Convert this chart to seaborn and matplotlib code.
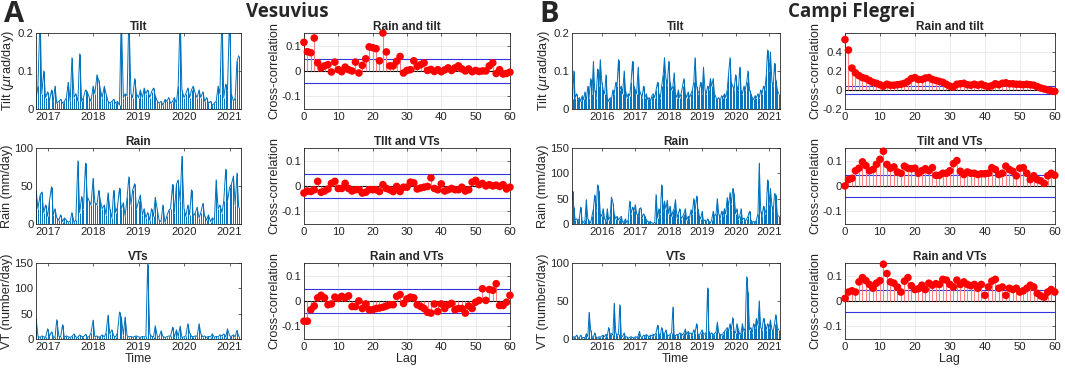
import matplotlib
matplotlib.use("Agg")
import matplotlib.pyplot as plt
import matplotlib.dates as mdates
import seaborn as sns
import numpy as np
import pandas as pd

# ---- time series (semi-monthly samples) ----
ves_dates = pd.date_range("2016-10-01", periods=108, freq="SMS")
cf_dates = pd.date_range("2015-02-01", periods=150, freq="SMS")

ves_tilt = [0.03, 0.06, 0.25, 0.04, 0.10, 0.03, 0.045, 0.02, 0.05, 0.02, 0.06, 0.015,
            0.02, 0.025, 0.015, 0.02, 0.03, 0.07, 0.02, 0.135, 0.03, 0.04, 0.02, 0.145,
            0.02, 0.03, 0.05, 0.045, 0.03, 0.02, 0.06, 0.04, 0.09, 0.075, 0.05, 0.03,
            0.06, 0.04, 0.02, 0.015, 0.02, 0.025, 0.015, 0.02, 0.01, 0.25, 0.03, 0.04,
            0.035, 0.25, 0.04, 0.03, 0.08, 0.04, 0.03, 0.05, 0.03, 0.055, 0.04, 0.05,
            0.03, 0.045, 0.055, 0.035, 0.02, 0.015, 0.02, 0.01, 0.025, 0.02, 0.03, 0.015,
            0.02, 0.03, 0.015, 0.06, 0.25, 0.05, 0.03, 0.04, 0.055, 0.03, 0.05, 0.06,
            0.04, 0.03, 0.05, 0.03, 0.045, 0.02, 0.03, 0.015, 0.02, 0.01, 0.015, 0.02,
            0.06, 0.04, 0.25, 0.03, 0.065, 0.05, 0.25, 0.04, 0.02, 0.03, 0.125, 0.14]
ves_rain = [43, 20, 38, 42, 15, 25, 10, 30, 49, 12, 20, 8, 5, 12, 3, 8, 5, 2, 4, 15,
            2, 5, 83, 15, 36, 20, 80, 36, 30, 25, 60, 28, 25, 44, 30, 20, 25, 12, 41, 20,
            8, 44, 15, 22, 47, 20, 28, 10, 35, 62, 25, 45, 53, 20, 30, 38, 12, 20, 8, 15,
            5, 20, 10, 35, 18, 5, 3, 25, 2, 10, 18, 20, 52, 15, 52, 58, 30, 89, 20, 10,
            25, 12, 45, 10, 15, 22, 8, 15, 27, 10, 5, 12, 3, 8, 5, 58, 20, 25, 15, 30,
            72, 30, 48, 52, 63, 25, 67, 22]
ves_vt = [40, 5, 3, 6, 4, 3, 20, 5, 14, 4, 3, 38, 5, 4, 28, 3, 6, 4, 3, 5,
          10, 4, 3, 8, 5, 4, 9, 3, 5, 12, 37, 4, 6, 3, 5, 8, 4, 12, 47, 10,
          18, 6, 4, 12, 53, 43, 8, 43, 6, 4, 5, 3, 5, 6, 4, 3, 5, 4, 6, 148,
          10, 5, 4, 26, 5, 4, 16, 5, 3, 4, 6, 5, 23, 4, 18, 5, 25, 3, 4, 6,
          30, 12, 5, 4, 6, 5, 30, 10, 4, 6, 3, 5, 4, 10, 3, 5, 4, 8, 6, 10,
          4, 20, 6, 5, 8, 4, 17, 5]

cf_tilt = [0.03, 0.025, 0.1, 0.03, 0.04, 0.025, 0.03, 0.02, 0.035, 0.025, 0.045, 0.02,
           0.06, 0.03, 0.08, 0.04, 0.125, 0.05, 0.03, 0.105, 0.06, 0.13, 0.07, 0.05,
           0.04, 0.09, 0.03, 0.02, 0.03, 0.025, 0.05, 0.04, 0.07, 0.06, 0.13, 0.05,
           0.06, 0.04, 0.1, 0.05, 0.03, 0.04, 0.035, 0.07, 0.125, 0.06, 0.05, 0.04,
           0.11, 0.05, 0.04, 0.03, 0.06, 0.03, 0.04, 0.025, 0.03, 0.02, 0.035, 0.04,
           0.03, 0.05, 0.07, 0.04, 0.03, 0.06, 0.09, 0.135, 0.08, 0.06, 0.125, 0.07,
           0.05, 0.06, 0.095, 0.04, 0.03, 0.05, 0.03, 0.04, 0.06, 0.08, 0.04, 0.03,
           0.045, 0.03, 0.04, 0.05, 0.07, 0.135, 0.06, 0.04, 0.05, 0.07, 0.04, 0.11,
           0.05, 0.04, 0.06, 0.05, 0.08, 0.06, 0.08, 0.04, 0.03, 0.025, 0.03, 0.02,
           0.035, 0.03, 0.04, 0.03, 0.05, 0.09, 0.135, 0.07, 0.06, 0.05, 0.09, 0.06,
           0.05, 0.11, 0.05, 0.04, 0.06, 0.05, 0.07, 0.1, 0.05, 0.04, 0.03, 0.025,
           0.035, 0.03, 0.04, 0.03, 0.05, 0.04, 0.06, 0.05, 0.09, 0.155, 0.1, 0.15,
           0.07, 0.06, 0.12, 0.075, 0.05, 0.04]
cf_rain = [20, 65, 33, 8, 10, 5, 12, 33, 5, 3, 8, 48, 10, 6, 2, 15, 30, 57, 25, 77,
           65, 20, 15, 30, 10, 5, 30, 8, 15, 53, 42, 20, 10, 15, 8, 12, 15, 3, 5, 10,
           2, 8, 45, 20, 33, 25, 38, 20, 15, 30, 32, 12, 20, 15, 8, 5, 3, 5, 2, 1,
           3, 58, 12, 30, 20, 77, 25, 45, 30, 47, 20, 35, 15, 25, 30, 48, 12, 20, 30, 10,
           15, 20, 30, 8, 15, 12, 28, 20, 50, 25, 55, 30, 15, 10, 25, 5, 8, 3, 10, 5,
           2, 8, 25, 15, 20, 50, 20, 10, 25, 15, 30, 20, 52, 35, 62, 40, 70, 60, 20, 30,
           10, 15, 30, 8, 12, 5, 10, 15, 25, 8, 3, 5, 2, 8, 20, 120, 25, 15, 35, 20,
           30, 87, 40, 70, 35, 25, 60, 58, 18, 15]
cf_vt = [2, 1, 3, 2, 5, 1, 2, 5, 1, 2, 1, 7, 3, 35, 12, 3, 2, 8, 2, 1,
         3, 2, 4, 5, 3, 6, 4, 15, 6, 7, 5, 47, 8, 5, 6, 45, 4, 3, 8, 2,
         3, 1, 2, 3, 2, 1, 3, 2, 4, 10, 3, 2, 5, 3, 6, 4, 3, 5, 4, 6,
         5, 8, 18, 6, 5, 15, 8, 6, 12, 5, 4, 6, 8, 42, 5, 4, 6, 5, 8, 7,
         5, 8, 13, 6, 10, 7, 8, 5, 12, 8, 20, 6, 5, 8, 12, 7, 6, 9, 67, 10,
         6, 8, 5, 7, 9, 22, 8, 6, 5, 7, 10, 12, 15, 10, 20, 12, 28, 10, 8, 20,
         12, 6, 8, 20, 10, 15, 82, 62, 12, 15, 8, 20, 15, 27, 18, 50, 15, 12, 27, 20,
         12, 20, 15, 25, 12, 10, 20, 32, 15, 12]

# ---- cross-correlations, lags 0..60 ----
lags = np.arange(61)
ves_rain_tilt = [0.113, 0.076, 0.072, 0.13, 0.032, 0.012, 0.02, 0.025, -0.004, 0.035,
                 0.005, -0.003, 0.015, 0.005, 0.0, 0.035, -0.008, 0.022, 0.048, 0.095,
                 0.092, 0.088, 0.04, 0.15, 0.075, 0.02, 0.02, 0.038, 0.057, -0.008,
                 0.002, 0.005, 0.04, 0.018, 0.025, 0.032, 0.002, 0.006, -0.002, 0.005,
                 -0.003, 0.004, 0.012, 0.002, 0.012, 0.02, 0.008, 0.0, 0.008, -0.003,
                 0.002, -0.002, 0.0, 0.0, 0.02, 0.032, -0.01, 0.005, -0.012, -0.01, -0.005]
ves_tilt_vt = [-0.028, -0.02, -0.022, -0.015, 0.018, -0.025, -0.02, -0.012, 0.01, 0.018,
               -0.01, -0.01, 0.01, -0.01, -0.02, -0.015, -0.015, -0.028, -0.025, -0.015,
               -0.015, -0.015, -0.022, 0.005, -0.01, -0.015, -0.022, -0.002, -0.022, -0.005,
               -0.005, 0.015, 0.012, -0.012, -0.008, -0.005, -0.002, 0.032, -0.01, -0.015,
               0.008, -0.02, -0.015, -0.01, -0.015, -0.015, -0.005, -0.02, -0.015, 0.015,
               0.022, 0.005, 0.01, 0.0, 0.005, 0.0, 0.003, -0.002, 0.005, -0.012, -0.005]
ves_rain_vt = [-0.08, -0.08, -0.035, -0.02, 0.012, 0.022, 0.012, -0.015, -0.012, 0.015,
               0.01, 0.018, 0.012, 0.02, -0.022, -0.022, 0.0, -0.03, -0.012, -0.035,
               -0.035, -0.03, -0.028, -0.025, -0.02, -0.015, -0.015, 0.018, 0.025, -0.01,
               0.008, 0.015, 0.012, -0.015, -0.022, -0.03, -0.045, -0.048, -0.012, -0.042,
               -0.012, -0.03, -0.015, -0.01, -0.035, -0.03, -0.03, -0.048, -0.02, -0.03,
               -0.005, 0.002, 0.048, 0.002, 0.045, 0.042, 0.068, -0.018, -0.018, -0.005, 0.022]
cf_rain_tilt = [0.53, 0.42, 0.23, 0.18, 0.15, 0.13, 0.12, 0.1, 0.08, 0.07,
                0.055, 0.04, 0.06, 0.05, 0.05, 0.055, 0.06, 0.07, 0.09, 0.12,
                0.13, 0.11, 0.11, 0.125, 0.13, 0.11, 0.1, 0.09, 0.08, 0.06,
                0.04, 0.03, 0.06, 0.065, 0.07, 0.055, 0.05, 0.06, 0.05, 0.06,
                0.045, 0.035, 0.045, 0.065, 0.055, 0.07, 0.075, 0.065, 0.065, 0.06,
                0.06, 0.055, 0.06, 0.055, 0.05, 0.035, 0.02, 0.01, 0.0, -0.01, -0.015]
cf_tilt_vt = [0.0, 0.025, 0.03, 0.06, 0.07, 0.095, 0.08, 0.06, 0.065, 0.085,
              0.105, 0.137, 0.085, 0.07, 0.075, 0.055, 0.05, 0.078, 0.07, 0.068,
              0.07, 0.05, 0.06, 0.068, 0.06, 0.072, 0.042, 0.042, 0.05, 0.05,
              0.06, 0.088, 0.1, 0.058, 0.045, 0.055, 0.05, 0.05, 0.045, 0.048,
              0.048, 0.05, 0.072, 0.065, 0.045, 0.05, 0.078, 0.065, 0.058, 0.04,
              0.07, 0.072, 0.05, 0.025, 0.04, 0.025, 0.02, 0.01, 0.04, 0.05, 0.042]
cf_rain_vt = [0.01, 0.035, 0.04, 0.035, 0.075, 0.092, 0.08, 0.065, 0.05, 0.07,
              0.08, 0.145, 0.108, 0.075, 0.07, 0.055, 0.035, 0.078, 0.092, 0.06,
              0.045, 0.048, 0.062, 0.045, 0.07, 0.062, 0.068, 0.065, 0.085, 0.082,
              0.065, 0.055, 0.082, 0.065, 0.075, 0.065, 0.06, 0.065, 0.05, 0.065,
              0.022, 0.055, 0.078, 0.085, 0.05, 0.055, 0.022, 0.05, 0.045, 0.05,
              0.035, 0.04, 0.05, 0.062, 0.055, 0.03, 0.02, 0.015, 0.035, 0.045, 0.035]

ves_conf = 0.049
cf_conf = 0.044

sns.set_style("white")
plt.rcParams["font.family"] = ["Liberation Sans", "DejaVu Sans"]

BLUE = "#0072BD"
fig = plt.figure(figsize=(10.65, 3.77), dpi=100)

col_left = [0.034, 0.2854, 0.537, 0.7934]
col_w = [0.192, 0.1934, 0.195, 0.197]
row_bot = [0.711, 0.406, 0.101]
row_h = 0.2016


def style_box(ax):
    for s in ax.spines.values():
        s.set_color("#262626")
        s.set_linewidth(0.6)
        s.set_visible(True)
    ax.tick_params(direction="in", length=2.5, width=0.5, labelsize=8.2,
                   colors="#262626", pad=2, top=True, right=True,
                   labeltop=False, labelright=False)


def ts_panel(ax, dates, vals, title, ylabel, ylim, yticks, xlim, xlabel=None):
    ax.vlines(dates, 0, vals, color=BLUE, linewidth=0.7)
    sns.lineplot(x=dates, y=vals, ax=ax, color=BLUE, linewidth=0.7)
    ax.set_ylim(*ylim)
    ax.set_yticks(yticks)
    ax.set_yticklabels([("%g" % t) for t in yticks])
    ax.set_xlim(pd.Timestamp(xlim[0]), pd.Timestamp(xlim[1]))
    ax.xaxis.set_major_locator(mdates.YearLocator())
    ax.xaxis.set_major_formatter(mdates.DateFormatter("%Y"))
    ax.set_title(title, fontsize=8.5, fontweight="bold", pad=2)
    ax.set_ylabel(ylabel, fontsize=9.2, labelpad=1)
    ax.set_xlabel(xlabel if xlabel else "", fontsize=9, labelpad=1)
    style_box(ax)


def xc_panel(ax, vals, conf, title, ylim, yticks, xlabel=None):
    ax.grid(True, color="#e3e3e3", linewidth=0.5)
    ax.vlines(lags, 0, vals, color="#ff8080", linewidth=0.8, zorder=2)
    ax.axhline(0, color="black", linewidth=0.8, zorder=1)
    ax.axhline(conf, color="#3535dd", linewidth=0.8, zorder=1)
    ax.axhline(-conf, color="#3535dd", linewidth=0.8, zorder=1)
    sns.scatterplot(x=lags, y=vals, ax=ax, color="red", s=30, edgecolor="none",
                    zorder=3, clip_on=False)
    ax.set_xlim(0, 60)
    ax.set_xticks(range(0, 61, 10))
    ax.set_ylim(*ylim)
    ax.set_yticks(yticks)
    ax.set_yticklabels([("%g" % t) for t in yticks])
    ax.set_title(title, fontsize=8.5, fontweight="bold", pad=2)
    ax.set_ylabel("Cross-correlation", fontsize=9.2, labelpad=1)
    ax.set_xlabel(xlabel if xlabel else "", fontsize=9, labelpad=1)
    style_box(ax)


axes = [[fig.add_axes([col_left[c], row_bot[r], col_w[c], row_h]) for c in range(4)]
        for r in range(3)]

vx = ("2016-10-01", "2021-03-31")
cx = ("2015-02-08", "2021-04-25")

ts_panel(axes[0][0], ves_dates, ves_tilt, "Tilt", "Tilt ($\\mu$rad/day)", (0, 0.2), [0, 0.1, 0.2], vx)
ts_panel(axes[1][0], ves_dates, ves_rain, "Rain", "Rain (mm/day)", (0, 100), [0, 50, 100], vx)
ts_panel(axes[2][0], ves_dates, ves_vt, "VTs", "VT (number/day)", (0, 150), [0, 50, 100, 150], vx, "Time")
ts_panel(axes[0][2], cf_dates, cf_tilt, "Tilt", "Tilt ($\\mu$rad/day)", (0, 0.2), [0, 0.1, 0.2], cx)
ts_panel(axes[1][2], cf_dates, cf_rain, "Rain", "Rain (mm/day)", (0, 150), [0, 50, 100, 150], cx)
ts_panel(axes[2][2], cf_dates, cf_vt, "VTs", "VT (number/day)", (0, 100), [0, 50, 100], cx, "Time")

xt = [-0.1, 0, 0.1]
xc_panel(axes[0][1], ves_rain_tilt, ves_conf, "Rain and tilt", (-0.15, 0.15), xt)
xc_panel(axes[1][1], ves_tilt_vt, ves_conf, "TIlt and VTs", (-0.15, 0.15), xt)
xc_panel(axes[2][1], ves_rain_vt, ves_conf, "Rain and VTs", (-0.15, 0.15), xt, "Lag")
xc_panel(axes[0][3], cf_rain_tilt, cf_conf, "Rain and tilt", (-0.2, 0.6), [-0.2, 0, 0.2, 0.4])
xc_panel(axes[1][3], cf_tilt_vt, cf_conf, "Tilt and VTs", (-0.15, 0.15), xt)
xc_panel(axes[2][3], cf_rain_vt, cf_conf, "Rain and VTs", (-0.15, 0.15), xt, "Lag")

fig.text(0.004, 0.962, "A", fontsize=21, fontweight="bold", va="center", family="Open Sans")
fig.text(0.27, 0.968, "Vesuvius", fontsize=13.5, fontweight="bold", va="center", ha="center", family="Open Sans")
fig.text(0.506, 0.962, "B", fontsize=21, fontweight="bold", va="center", family="Open Sans")
fig.text(0.8, 0.968, "Campi Flegrei", fontsize=13.5, fontweight="bold", va="center", ha="center", family="Open Sans")

fig.savefig("out.png", dpi=100, facecolor="white")
